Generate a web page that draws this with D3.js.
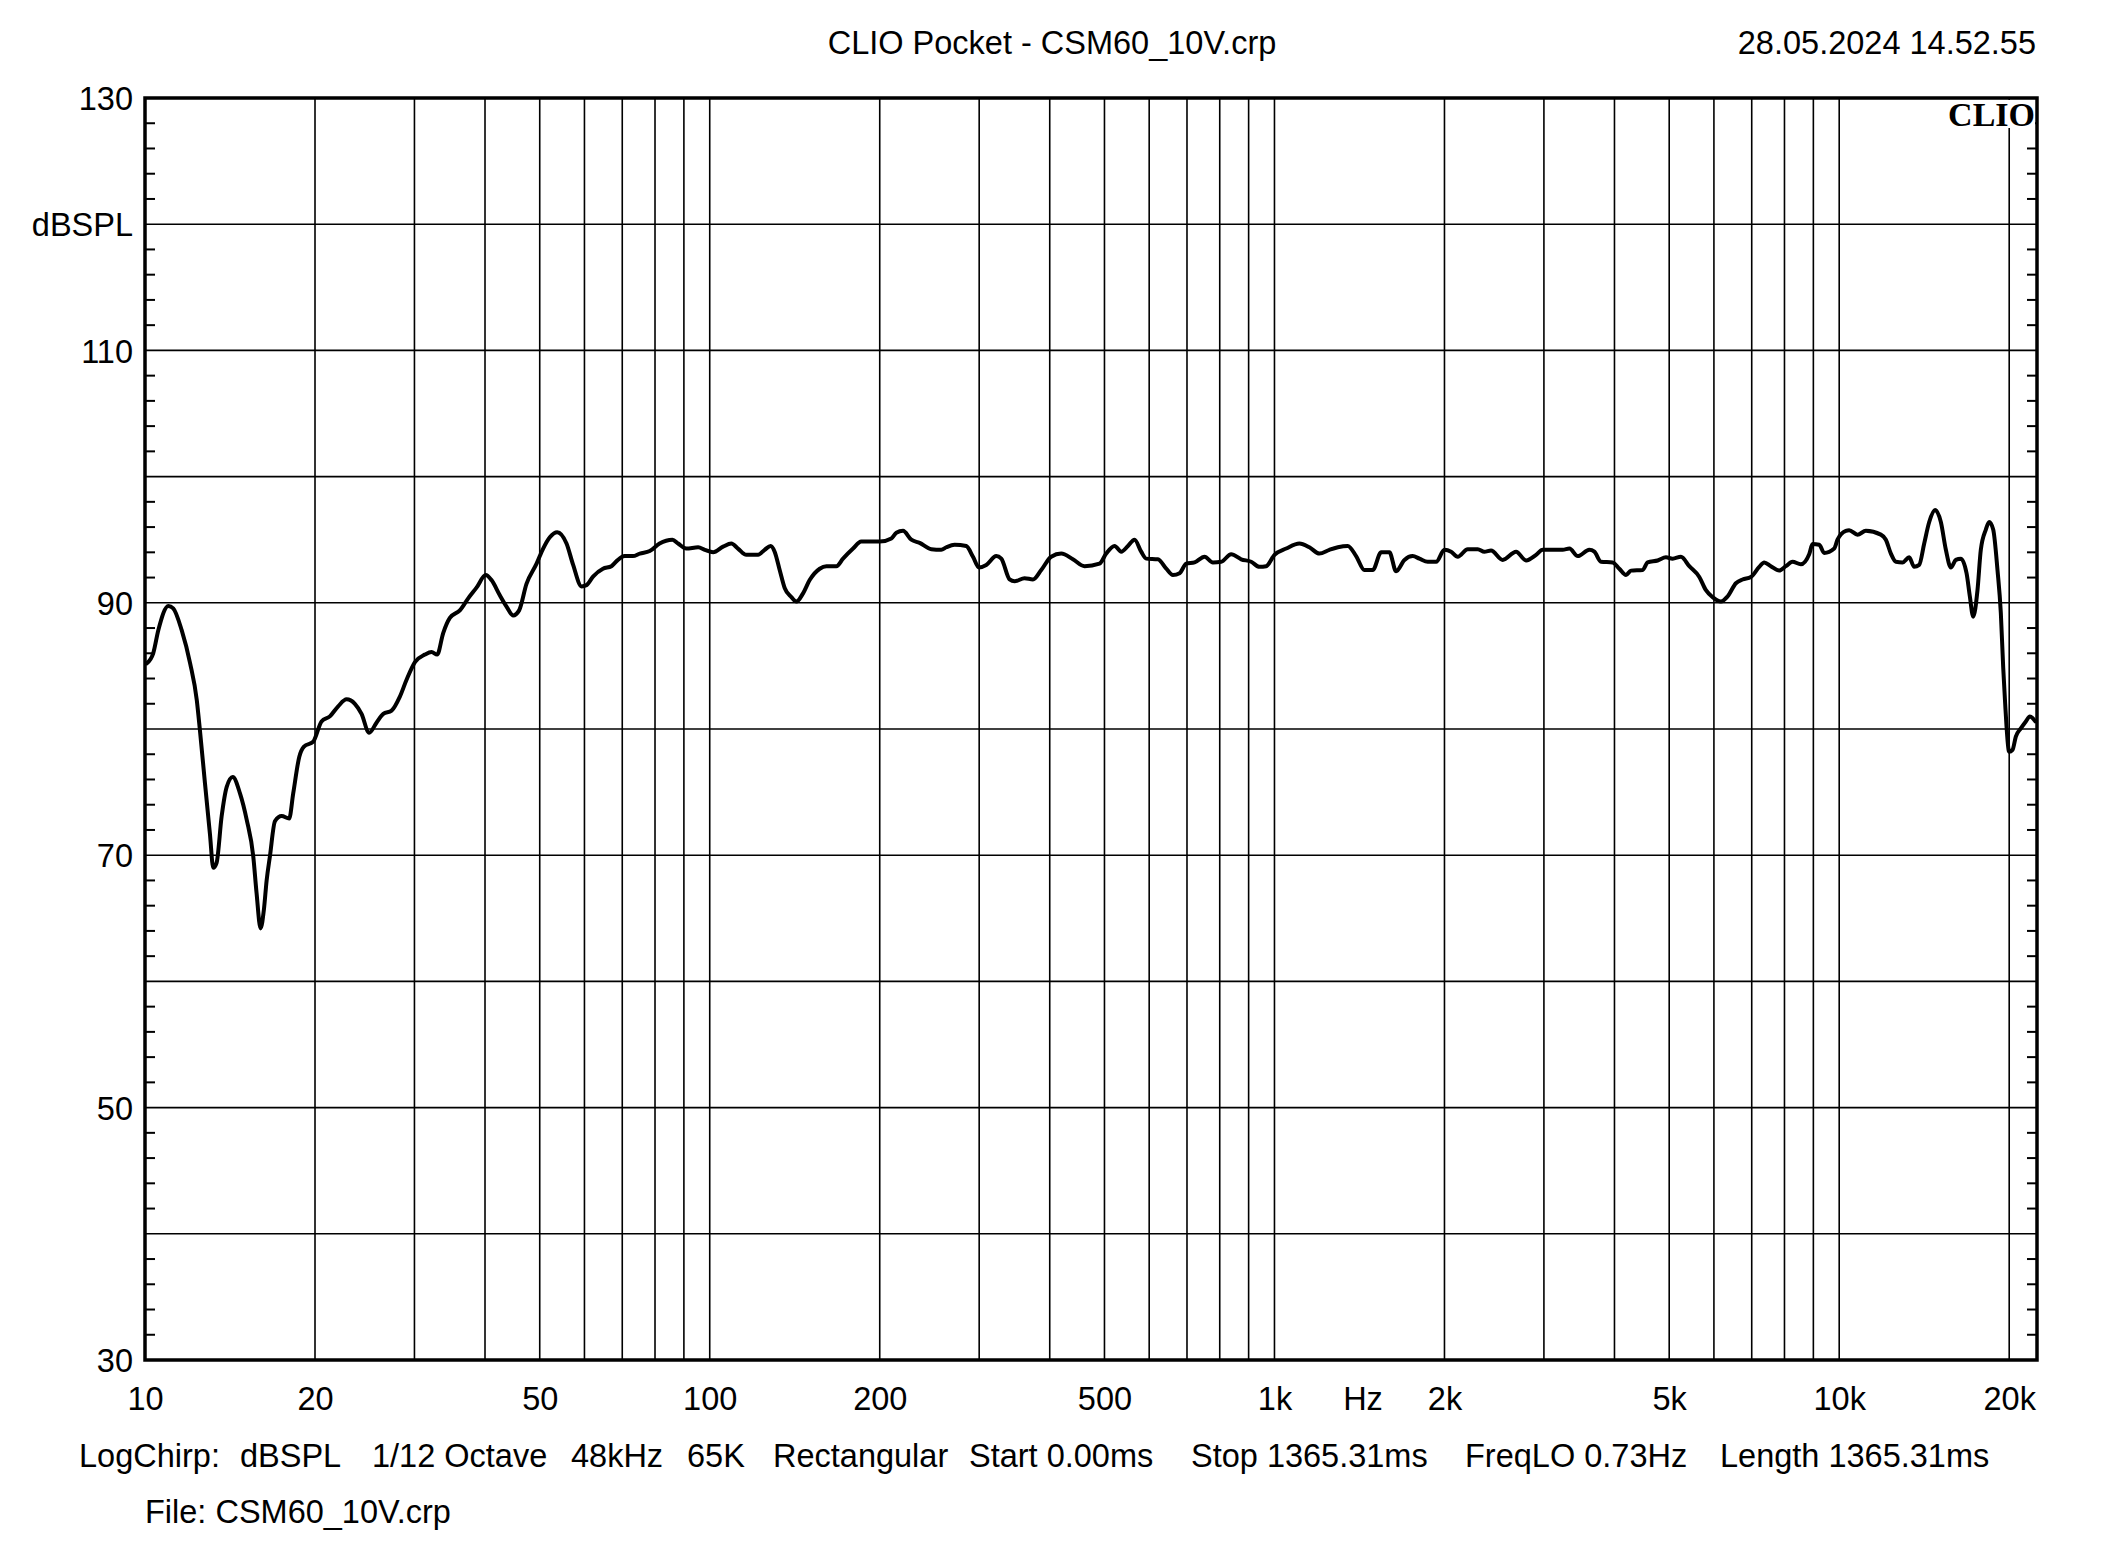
<!DOCTYPE html>
<html>
<head>
<meta charset="utf-8">
<script src="https://cdn.jsdelivr.net/npm/d3@7"></script>
<style>
  html, body { margin: 0; padding: 0; background: #fff; }
  svg { display: block; }
  text { font-family: "Liberation Sans", Arial, sans-serif; fill: #000; }
</style>
</head>
<body>
<svg id="chart" width="2105" height="1568"></svg>
<script>
// ---- data ----
const titleText = "CLIO Pocket - CSM60_10V.crp";
const dateText = "28.05.2024 14.52.55";
const fileText = "File: CSM60_10V.crp";
const infoItems = ["LogChirp:", "dBSPL", "1/12 Octave", "48kHz", "65K", "Rectangular",
  "Start 0.00ms", "Stop 1365.31ms", "FreqLO 0.73Hz", "Length 1365.31ms"];
const xTickValues = [10, 20, 50, 100, 200, 500, 1000, 2000, 5000, 10000, 20000];
const xTickLabels = ["10", "20", "50", "100", "200", "500", "1k", "2k", "5k", "10k", "20k"];
const xGridValues = [20, 30, 40, 50, 60, 70, 80, 90, 100, 200, 300, 400, 500, 600, 700, 800, 900,
  1000, 2000, 3000, 4000, 5000, 6000, 7000, 8000, 9000, 10000, 20000];
const yTickValues = [130, 110, 90, 70, 50, 30];
const yGridValues = [120, 110, 100, 90, 80, 70, 60, 50, 40];
const yUnit = "dBSPL";
const xUnit = "Hz";

const freq = [10.07, 10.34, 10.56, 11.0, 11.22, 11.61, 12.02, 12.35, 12.51, 12.77, 13.03, 13.21, 13.39, 13.67,
  13.95, 14.3, 14.73, 15.14, 15.55, 15.76, 16.02, 16.24, 16.42, 16.64, 16.99, 17.46, 18.0, 18.3, 18.76,
  19.12, 19.86, 20.54, 21.25, 21.98, 22.75, 23.53, 24.18, 24.94, 25.7, 26.42, 27.33, 28.27, 29.05, 30.06,
  31.31, 32.17, 32.91, 33.73, 34.66, 36.1, 37.35, 38.64, 40.13, 41.07, 42.49, 43.67, 44.87, 45.97, 47.37,
  49.36, 50.7, 52.1, 53.7, 55.77, 57.3, 59.3, 60.5, 62.2, 64.7, 66.98, 68.4, 70.7, 73.1, 75.2, 78.3,
  81.5, 85.9, 87.9, 90.9, 95.4, 98.0, 101.4, 105.6, 109.2, 112.2, 116.1, 121.8, 125.1, 128.2, 130.3,
  133.0, 135.8, 139.5, 142.4, 146.3, 150.3, 156.6, 160.9, 167.6, 172.2, 179.4, 185.5, 200, 209.7, 214,
  219.9, 227.5, 235.3, 246.8, 257, 262.4, 271.4, 284.6, 292.5, 299.7, 308.8, 321.7, 328.3, 339.6, 346.6,
  361, 373.5, 386.4, 402.4, 419.2, 439.6, 461, 490, 503.6, 521, 535.4, 550.2, 565.3, 580.8, 592.8,
  621.7, 643.2, 661, 679.2, 697.9, 722, 751.8, 778, 804.8, 838.2, 873, 909.4, 940.8, 966.7, 1000,
  1049, 1107, 1153, 1201, 1251, 1295, 1348, 1395, 1443, 1493, 1545, 1598, 1642, 1699, 1757, 1806,
  1868, 1933, 2000, 2055, 2111, 2199, 2291, 2353, 2418, 2536, 2678, 2790, 2906, 2985, 3239, 3329,
  3444, 3610, 3685, 3786, 3970, 4080, 4193, 4279, 4487, 4579, 4770, 4935, 5070, 5245, 5427, 5653,
  5808, 5968, 6173, 6343, 6563, 6744, 6977, 7218, 7366, 7568, 7830, 8045, 8267, 8552, 8848, 8970,
  9217, 9406, 9799, 9932, 10274, 10414, 10776, 11147, 11850, 12095, 12345, 12600, 12946, 13303, 13577,
  13856, 14142, 14434, 14790, 15135, 15448, 15765, 16090, 16420, 16807, 17036, 17270, 17573, 17814,
  18183, 18432, 18736, 19067, 19328, 19515, 19674, 19782, 19998, 20272, 20548, 20970, 21404, 21757, 22245];
const level = [85.2, 86.0, 87.85, 89.75, 89.56, 87.85, 85.2, 82.3, 79.9, 75.7, 71.7, 69.0, 69.4, 73.1,
  75.4, 76.2, 74.9, 72.8, 69.9, 67.0, 64.2, 65.7, 68.0, 69.9, 72.7, 73.1, 72.9, 74.9, 77.8,
  78.6, 79.0, 80.6, 81.0, 81.8, 82.35, 82.0, 81.2, 79.7, 80.5, 81.2, 81.45, 82.56, 83.9, 85.3,
  85.9, 86.1, 85.9, 87.6, 88.8, 89.4, 90.35, 91.2, 92.2, 91.8, 90.6, 89.7, 89.0, 89.4, 91.5,
  93.1, 94.3, 95.2, 95.6, 94.7, 93.0, 91.3, 91.4, 92.1, 92.7, 92.9, 93.3, 93.7, 93.7, 93.9, 94.1,
  94.7, 95.0, 94.7, 94.3, 94.4, 94.2, 94.0, 94.45, 94.7, 94.3, 93.8, 93.8, 94.2, 94.5, 94.05,
  92.6, 91.15, 90.45, 90.1, 90.75, 91.8, 92.7, 92.9, 92.9, 93.5, 94.3, 94.85, 94.85, 95.1, 95.55,
  95.7, 95.0, 94.75, 94.25, 94.2, 94.4, 94.6, 94.5, 93.65, 92.8, 93.0, 93.7, 93.5, 91.85, 91.7,
  91.95, 91.85, 92.6, 93.65, 93.9, 93.45, 92.9, 93.1, 93.9, 94.5, 94.05, 94.5, 95.0, 94.05, 93.5,
  93.45, 92.7, 92.2, 92.35, 93.1, 93.2, 93.65, 93.2, 93.25, 93.85, 93.45, 93.25, 92.85, 92.9, 93.8,
  94.3, 94.7, 94.4, 93.9, 94.2, 94.4, 94.5, 93.7, 92.6, 92.6, 94.0, 94.0, 92.5, 93.4, 93.7, 93.5,
  93.25, 93.25, 94.2, 94.05, 93.65, 94.25, 94.25, 94.05, 94.15, 93.4, 94.05, 93.35, 93.8, 94.2, 94.2, 94.3,
  93.7, 94.2, 94.05, 93.25, 93.2, 92.7, 92.2, 92.55, 92.6, 93.2, 93.35, 93.6, 93.5, 93.65, 92.9, 92.05,
  91.0, 90.45, 90.1, 90.5, 91.55, 91.85, 92.05, 92.85, 93.2, 92.9, 92.55, 92.9, 93.25, 93.05, 93.85, 94.65,
  94.6, 93.95, 94.3, 95.0, 95.7, 95.75, 95.4, 95.7, 95.4, 95.0, 93.9, 93.25, 93.2, 93.6, 92.85,
  93.0, 94.7, 96.4, 97.35, 96.4, 94.2, 92.8, 93.4, 93.5, 92.35, 90.5, 88.9, 91.0, 94.2,
  95.8, 96.4, 95.8, 92.6, 89.2, 84.9, 82.0, 80.2, 78.2, 78.35, 79.4, 80.05, 80.6, 81.0, 80.6];

// ---- layout ----
const L = 145, R = 2037, T = 98, B = 1360;
const svg = d3.select("#chart");
const x = d3.scaleLog().domain([10, 22400]).range([L, R]);
const y = d3.scaleLinear().domain([30, 130]).range([B, T]);
const FS = 32.5;

// grid
const grid = svg.append("g").attr("stroke", "#000").attr("stroke-width", 1.6);
grid.selectAll("line.v").data(xGridValues).join("line")
  .attr("x1", d => x(d)).attr("x2", d => x(d)).attr("y1", T).attr("y2", B);
grid.selectAll("line.h").data(yGridValues).join("line")
  .attr("x1", L).attr("x2", R).attr("y1", d => y(d)).attr("y2", d => y(d));

// minor ticks every 2 dB, inward on left and right
const minor = d3.range(32, 130, 2).filter(v => v % 10 !== 0);
const tk = svg.append("g").attr("stroke", "#000").attr("stroke-width", 2);
tk.selectAll("line.l").data(minor).join("line")
  .attr("x1", L).attr("x2", L + 10).attr("y1", d => y(d)).attr("y2", d => y(d));
tk.selectAll("line.r").data(minor).join("line")
  .attr("x1", R - 10).attr("x2", R).attr("y1", d => y(d)).attr("y2", d => y(d));

// CLIO logo with white background
svg.append("rect").attr("x", 1942).attr("y", T + 2).attr("width", R - 1944).attr("height", 28).attr("fill", "#fff");
svg.append("text").attr("x", 2035).attr("y", 126).attr("text-anchor", "end")
  .style("font-family", "'Liberation Serif', 'Times New Roman', serif").style("font-weight", "bold")
  .style("font-size", "34px").text("CLIO");

// curve
const pts = freq.map((f, i) => [f, level[i]]);
svg.append("path").datum(pts)
  .attr("fill", "none").attr("stroke", "#000").attr("stroke-width", 4)
  .attr("stroke-linejoin", "round").attr("stroke-linecap", "round")
  .attr("d", d3.line().curve(d3.curveMonotoneX).x(d => x(d[0])).y(d => y(d[1])));

// frame
svg.append("rect").attr("x", L).attr("y", T).attr("width", R - L).attr("height", B - T)
  .attr("fill", "none").attr("stroke", "#000").attr("stroke-width", 3.5);

// y axis labels
const yAx = svg.append("g").attr("transform", `translate(${L},0)`)
  .call(d3.axisLeft(y).tickValues(yTickValues).tickSize(0).tickPadding(12).tickFormat(d3.format("d")));
yAx.select(".domain").remove();
yAx.selectAll("text").style("font-size", FS + "px").style("font-family", "'Liberation Sans', Arial, sans-serif")
  .attr("dy", "0.36em");
svg.append("text").attr("x", L - 12).attr("y", y(120)).attr("dy", "0.36em").attr("text-anchor", "end")
  .style("font-size", FS + "px").text(yUnit);

// x axis labels
const xAx = svg.append("g").attr("transform", `translate(0,${B})`)
  .call(d3.axisBottom(x).tickValues(xTickValues).tickSize(0)
    .tickFormat((d, i) => xTickLabels[i]));
xAx.select(".domain").remove();
xAx.selectAll("text").style("font-size", FS + "px").style("font-family", "'Liberation Sans', Arial, sans-serif")
  .attr("y", 50).attr("dy", null);
svg.append("text").attr("x", 1363).attr("y", B + 50).attr("text-anchor", "middle")
  .style("font-size", FS + "px").text(xUnit);

// title & date
svg.append("text").attr("x", 1052).attr("y", 54).attr("text-anchor", "middle")
  .style("font-size", FS + "px").text(titleText);
svg.append("text").attr("x", 2036).attr("y", 54).attr("text-anchor", "end")
  .style("font-size", FS + "px").text(dateText);

// info line
const infoX = [79, 240, 372, 571, 687, 773, 969, 1191, 1465, 1720];
svg.append("g").selectAll("text").data(infoItems).join("text")
  .attr("x", (d, i) => infoX[i]).attr("y", 1467)
  .style("font-size", FS + "px").text(d => d);
svg.append("text").attr("x", 145).attr("y", 1523).style("font-size", FS + "px").text(fileText);
</script>
</body>
</html>
